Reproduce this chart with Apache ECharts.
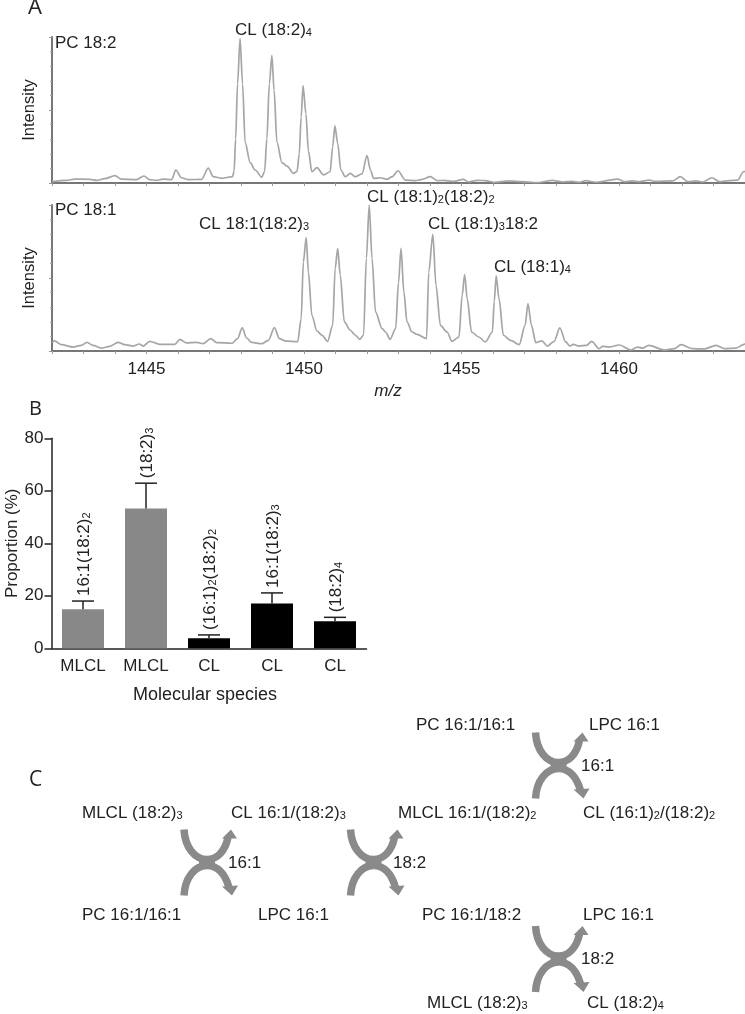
<!DOCTYPE html>
<html><head><meta charset="utf-8">
<style>html,body{margin:0;padding:0;background:#fff}#c{width:745px;height:1014px}</style>
<script src="https://cdn.jsdelivr.net/npm/echarts@6/dist/echarts.min.js"></script>
</head><body><div id="c"></div>
<script>
const mzTop=[1442,1442.46,1442.72,1443.2,1443.41,1443.68,1444,1444.2,1444.68,1444.92,1445.1,1445.32,1445.53,1445.8,1445.93,1446.11,1446.33,1446.75,1446.96,1447.12,1447.39,1447.73,1447.78,1447.83,1447.89,1447.97,1448.05,1448.13,1448.29,1448.45,1448.66,1448.75,1448.82,1448.9,1448.98,1449.05,1449.14,1449.3,1449.46,1449.67,1449.78,1449.85,1449.91,1449.97,1450.06,1450.14,1450.25,1450.41,1450.62,1450.83,1450.91,1450.98,1451.07,1451.17,1451.31,1451.47,1451.63,1451.84,1452,1452.11,1452.21,1452.42,1452.64,1452.8,1452.98,1453.22,1453.54,1453.75,1454.01,1454.23,1454.44,1454.76,1455.05,1455.23,1455.5,1455.76,1456.03,1456.51,1456.93,1457.41,1457.89,1458.2,1458.52,1458.73,1458.95,1459.26,1459.95,1460.17,1460.43,1460.64,1460.96,1461.16,1461.7,1461.95,1462.18,1462.45,1462.66,1462.95,1463.19,1463.5,1463.77,1463.95,1464];
const intensityTop=[0.9,1.8,2.7,2.5,1.8,3,5,2.7,2.3,4.8,2.3,1.8,2.7,2.3,8.9,3.6,2.3,2.5,10.2,4.3,3.2,4.3,8,30,68,98.9,68,28,14,8.9,3.9,8,30,68,87.5,63.6,28,14,11.6,6.6,8,20,45.3,66.7,47.6,22,7.7,10.5,5.5,7.7,24.8,39.2,27.1,8.9,4.3,6.6,4.3,6.2,18.7,8.9,3.2,3.6,2.5,4.3,8.4,2,1.6,2.5,4.3,1.6,1.8,1.1,2.5,0.7,1.8,1.6,0.5,1.4,0.9,0.2,1.8,0.7,1.1,0.5,1.6,0.5,2.7,0.9,1.4,0.9,2,1.1,1.4,4.3,0.9,1.4,0.7,3.6,0.9,1.6,2,7.7,8];
const mzBottom=[1442,1442.08,1442.3,1442.67,1442.93,1443.11,1443.3,1443.57,1443.83,1444.1,1444.31,1444.58,1444.77,1444.9,1445.1,1445.42,1445.9,1446.06,1446.27,1446.59,1446.8,1447.04,1447.23,1447.71,1447.89,1448.04,1448.18,1448.34,1448.66,1448.87,1449.06,1449.22,1449.4,1449.8,1449.91,1449.98,1450.07,1450.14,1450.25,1450.41,1450.57,1450.75,1450.91,1450.99,1451.07,1451.15,1451.28,1451.47,1451.63,1451.77,1451.89,1451.98,1452.07,1452.16,1452.27,1452.48,1452.59,1452.73,1452.91,1453,1453.08,1453.17,1453.27,1453.43,1453.59,1453.89,1453.96,1454.09,1454.19,1454.33,1454.54,1454.7,1454.92,1455.02,1455.1,1455.18,1455.32,1455.55,1455.76,1455.98,1456.04,1456.1,1456.19,1456.33,1456.56,1456.83,1457.02,1457.11,1457.22,1457.36,1457.55,1457.73,1457.94,1458.12,1458.31,1458.44,1458.55,1458.73,1458.97,1459.13,1459.37,1459.48,1459.69,1460.01,1460.38,1460.59,1460.75,1460.94,1461.44,1461.76,1461.97,1462.34,1462.71,1463.08,1463.35,1463.72,1463.95,1464];
const intensityBottom=[5.7,6.9,4.3,2.7,3.9,5.9,3.9,2,3.2,5.9,4.3,3.4,4.8,3.4,6.6,4.6,4.6,8,5.5,5.9,5,8.5,5.7,5.3,8.5,15.8,8.9,5.9,5,7.3,16,8.5,6.9,6.4,22.2,61,77.6,54,24.5,13.7,10.8,6.6,17.6,56.5,70.3,52,19.9,14.2,10.8,8,10.8,63.4,100,63.4,26.8,15.3,13,8,15.3,47,70.3,40.5,19.9,13,11.4,8.5,54,79.9,45,17.6,13,6.6,9.6,38,52.4,35.9,13,9.6,6.2,13,34,51.5,36,10.8,7.3,4.3,17.6,32.5,17.6,5.7,6.9,3.4,6.6,15.8,6.2,3.4,4.6,3.4,3.9,6.6,1.6,3.2,2.7,4.1,0.7,2.7,2,3.9,0.7,1.6,4.3,1.6,1.4,3.9,1.6,2,4.3,5];
const speciesClass=['MLCL','MLCL','CL','CL','CL'];
const proportion=[14.9,53.3,3.8,17.1,10.3];
const errorTop=[18,62.9,5.1,21.1,11.8];
const speciesNames=['16:1(18:2){s|2}','(18:2){s|3}','(16:1){s|2}(18:2){s|2}','16:1(18:2){s|3}','(18:2){s|4}'];
const barColors=['#888888','#888888','#000000','#000000','#000000'];

const FONT='"Liberation Sans",Arial,sans-serif', INK='#222';
const rich={s:{fontSize:11,fontFamily:FONT,fill:INK,color:INK,verticalAlign:'bottom',padding:[5,0,0,0]}};
const T=(x,y,text,extra)=>({type:'text',x,y,silent:true,style:Object.assign({text,rich,fontSize:17,fontFamily:FONT,fill:INK,verticalAlign:'middle'},extra||{})});
const G='#8a8a8a';
function exchange(x,y){
  const st={stroke:G,lineWidth:7.5,fill:'none'};
  return {type:'group',x,y,silent:true,children:[
  {type:'bezierCurve',shape:{x1:0,y1:0,cpx1:1,cpy1:18,cpx2:11,cpy2:30,x2:23,y2:30},style:st},
  {type:'bezierCurve',shape:{x1:23,y1:30,cpx1:33,cpy1:30,cpx2:41,cpy2:22,x2:44,y2:8},style:st},
  {type:'bezierCurve',shape:{x1:0,y1:66,cpx1:1,cpy1:48,cpx2:11,cpy2:36,x2:23,y2:36},style:st},
  {type:'bezierCurve',shape:{x1:23,y1:36,cpx1:33,cpy1:36,cpx2:41,cpy2:44,x2:45,y2:58},style:st},
  {type:'polygon',shape:{points:[[47,0],[38,9],[53,9]]},style:{fill:G}},
  {type:'polygon',shape:{points:[[48,66],[38,57],[54,56]]},style:{fill:G}},
  {type:'rect',shape:{x:15,y:27,width:16,height:12},style:{fill:G}}
]};}
const thinAxis=(grid,show)=>({type:'value',gridIndex:grid,min:1442,max:1464,interval:1,
  axisLine:{lineStyle:{color:'#777',width:2}},splitLine:{show:false},
  axisTick:{show:true,length:3,lineStyle:{color:'#999',width:1}},
  axisLabel:{show,fontSize:17,fontFamily:FONT,color:INK,margin:10,hideOverlap:false,formatter:v=>v%5===0?String(v):''}});
const intensityAxis=(grid)=>({type:'value',gridIndex:grid,min:0,max:100,interval:50,name:'Intensity',nameLocation:'middle',nameGap:14,
  nameTextStyle:{fontSize:16.5,fontFamily:FONT,color:INK},
  axisLine:{show:true,lineStyle:{color:'#777',width:2}},axisLabel:{show:false},splitLine:{show:false},
  axisTick:{show:true,length:3,lineStyle:{color:'#999',width:1}},
  minorTick:{show:true,splitNumber:5,length:2,lineStyle:{color:'#aaa',width:1}}});
const spectrum=(idx,xs,ys)=>({type:'line',xAxisIndex:idx,yAxisIndex:idx,data:xs.map((x,i)=>[x,ys[i]]),showSymbol:false,smooth:0.3,smoothMonotone:'x',
  lineStyle:{color:'#a6a6a6',width:1.7},silent:true,z:3});

const chart=echarts.init(document.getElementById('c'),null,{renderer:'canvas'});
chart.setOption({
  animation:false,backgroundColor:'#fff',
  grid:[
    {left:52,right:0,top:37,height:146,outerBoundsMode:'none'},
    {left:52,right:0,top:205,height:146,outerBoundsMode:'none'},
    {left:51.5,width:315,top:438.3,height:210,outerBoundsMode:'none'}
  ],
  xAxis:[thinAxis(0,false),thinAxis(1,true),
    {type:'category',gridIndex:2,data:speciesClass,name:'Molecular species',nameLocation:'middle',nameGap:38,
     nameTextStyle:{fontSize:18,fontFamily:FONT,color:INK,padding:[0,8,0,0]},
     axisLine:{lineStyle:{color:'#222',width:1.5}},axisTick:{alignWithLabel:true,length:5,lineStyle:{color:'#222',width:1.5}},
     axisLabel:{fontSize:17,fontFamily:FONT,color:INK,margin:10,interval:0}}],
  yAxis:[intensityAxis(0),intensityAxis(1),
    {type:'value',gridIndex:2,min:0,max:80,interval:20,name:'Proportion (%)',nameLocation:'middle',nameGap:29.5,
     nameTextStyle:{fontSize:17,fontFamily:FONT,color:INK},
     axisLine:{show:true,lineStyle:{color:'#222',width:1.5}},axisTick:{show:true,length:7,lineStyle:{color:'#222',width:1.5}},
     splitLine:{show:false},axisLabel:{fontSize:17,fontFamily:FONT,color:INK,margin:8}}],
  series:[
    spectrum(0,mzTop,intensityTop),
    spectrum(1,mzBottom,intensityBottom),
    {type:'bar',xAxisIndex:2,yAxisIndex:2,barWidth:42,silent:true,
     data:proportion.map((v,i)=>({value:v,itemStyle:{color:barColors[i]}}))},
    {type:'custom',xAxisIndex:2,yAxisIndex:2,silent:true,z:5,clip:false,
     data:proportion.map((v,i)=>[i,v,errorTop[i]]),
     renderItem(p,api){
       const i=api.value(0),a=api.coord([i,api.value(1)]),b=api.coord([i,api.value(2)]);
       const ls={stroke:'#222',lineWidth:1.5};
       return {type:'group',children:[
         {type:'line',shape:{x1:a[0],y1:a[1],x2:b[0],y2:b[1]},style:ls},
         {type:'line',shape:{x1:b[0]-11,y1:b[1],x2:b[0]+11,y2:b[1]},style:ls},
         {type:'text',x:b[0]+1,y:b[1]-5,rotation:Math.PI/2,style:{text:speciesNames[i],rich,fontSize:17,fontFamily:FONT,fill:INK,align:'left',verticalAlign:'middle'}}
       ]};
     }}
  ],
  graphic:{elements:[
    T(28,8,'A',{fontSize:22,fontFamily:'"Open Sans",sans-serif'}),
    T(29,409,'B',{fontSize:20,fontFamily:'"Open Sans",sans-serif'}),
    T(29,780,'C',{fontSize:21,fontFamily:'"Open Sans",sans-serif'}),
    T(55,43,'PC 18:2'),T(235,30,'CL (18:2){s|4}'),
    T(55,210,'PC 18:1'),T(199,224,'CL 18:1(18:2){s|3}'),
    T(367,197,'CL (18:1){s|2}(18:2){s|2}'),T(428,224,'CL (18:1){s|3}18:2'),T(494,267,'CL (18:1){s|4}'),
    T(388,391,'m/z',{align:'center',fontStyle:'italic'}),
    T(82,813,'MLCL (18:2){s|3}'),T(231,813,'CL 16:1/(18:2){s|3}'),T(228,863,'16:1'),
    T(82,915,'PC 16:1/16:1'),T(258,915,'LPC 16:1'),
    T(393,863,'18:2'),T(398,813,'MLCL 16:1/(18:2){s|2}'),T(583,813,'CL (16:1){s|2}/(18:2){s|2}'),
    T(416,725,'PC 16:1/16:1'),T(589,725,'LPC 16:1'),T(581,766,'16:1'),
    T(422,915,'PC 16:1/18:2'),T(583,915,'LPC 16:1'),T(581,959,'18:2'),
    T(427,1003,'MLCL (18:2){s|3}'),T(587,1003,'CL (18:2){s|4}'),
    exchange(184,829.5),exchange(350.5,829.5),exchange(535.5,732.5),exchange(535.5,926)
  ]}
});
</script></body></html>
